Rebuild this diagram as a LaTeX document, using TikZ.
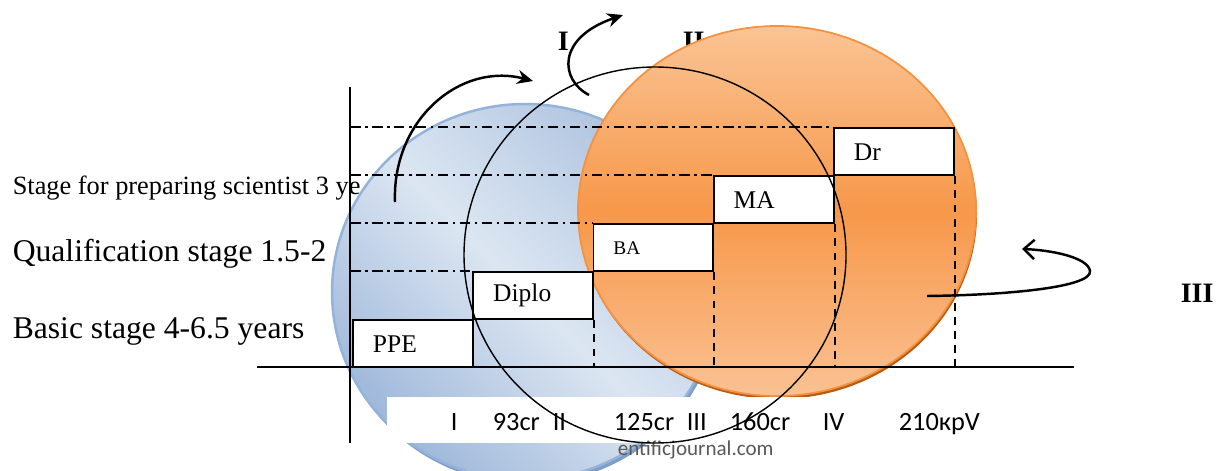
\documentclass[tikz,border=0pt]{standalone}
\usepackage{fontspec}
\setmainfont{Liberation Serif}
\newfontfamily\calib{Carlito}
\usetikzlibrary{arrows.meta}
\definecolor{bluedark}{HTML}{AEC3DF}
\definecolor{bluebot}{HTML}{9FB8DA}
\definecolor{bluelite}{HTML}{DCE6F2}
\definecolor{blueedge}{HTML}{93B3DA}
\definecolor{blueshad}{HTML}{7F9DC6}
\definecolor{orgtop}{HTML}{FAC495}
\definecolor{orgmid}{HTML}{F7984A}
\definecolor{orgbot}{HTML}{FAC193}
\definecolor{orgedge}{HTML}{F5913F}
\definecolor{orgshad}{HTML}{B85C12}

\begin{document}
\begin{tikzpicture}[x=0.02cm,y=-0.02cm,line width=0.9pt,
 stagebox/.style={draw,fill=white,line width=1.1pt,anchor=north west,minimum height=0.95cm,text width=1.6cm,inner xsep=0.4cm,align=left,font=\fontsize{14.5}{16}\selectfont},
 dashdot/.style={line width=0.9pt,dash pattern=on 6pt off 2.5pt on 1.5pt off 2.5pt},
 drop/.style={line width=1.1pt,dash pattern=on 4.5pt off 3.5pt},
 lbl/.style={anchor=base west,inner sep=0pt},
 roman/.style={lbl,font=\fontsize{16}{18}\selectfont\bfseries},
 crd/.style={lbl,font=\calib\fontsize{15}{17}\selectfont},
 curvearrow/.style={line width=1.4pt,-{Stealth[length=9pt,width=8pt]}}]
\clip (0,0) rectangle (1222,470);
\coordinate (cb) at (525,292);
\coordinate (co) at (777,211);
\coordinate (ck) at (655,255);
\fill[blueshad] ([shift={(2,4)}]cb) ellipse [x radius=193,y radius=188];
\shade[top color=bluedark,bottom color=bluebot,middle color=bluelite,shading angle=-45] (cb) ellipse [x radius=193,y radius=188];
\draw[blueedge,line width=1.4pt] (cb) ellipse [x radius=193,y radius=188];
\node[roman] (r2) at (682,50) {II};
\fill[orgshad] ([shift={(1,3)}]co) ellipse [x radius=199,y radius=185];
\shade[top color=orgtop,bottom color=orgbot,middle color=orgmid] (co) ellipse [x radius=199,y radius=185];
\draw[orgedge,line width=1pt] (co) ellipse [x radius=199,y radius=185];
\node[lbl,font=\fontsize{15}{17}\selectfont] (sci) at (12,194) {Stage for preparing scientist 3 ye};
\node[lbl,font=\fontsize{18}{20}\selectfont] (qual) at (12,261) {Qualification stage 1.5-2};
\node[lbl,font=\fontsize{18}{20}\selectfont] (basic) at (12,338) {Basic stage 4-6.5 years};
\node[roman] (r1) at (557,50) {I};
\node[roman] (r3) at (1180,302) {III};
\coordinate (yax) at (350,87);
\coordinate (yaxb) at (350,443);
\coordinate (xax) at (257,367);
\coordinate (xaxr) at (1074,367);
\draw (yax) -- (yaxb);
\foreach \t [count=\i] in {PPE,Diplo,{\fontsize{11}{13}\selectfont BA},MA,Dr}
  \node[stagebox] (b\i) at ({352+120.25*(\i-1)},{319-48*(\i-1)}) {\t};
\foreach \i in {2,...,5}{\draw[dashdot] (b\i.north west -| yax) -- (b\i.north west);};
\foreach \i in {2,...,5}{\draw[drop] (b\i.south east) -- (b\i.south east |- xax);};
\draw (xax) -- (xaxr);
\fill[white] (387,397) rectangle (990,443);
\foreach \t/\x in {I/450,93cr/492,II/552,125cr/613,III/686,160cr/729,IV/822,210крV/898}
  \node[crd] (c\x) at (\x,430) {\t};
\node[lbl,font=\calib\fontsize{12}{14}\selectfont,text=black!65] (wm) at (617,455) {entificjournal.com};
\draw[line width=0.8pt] (ck) ellipse [x radius=191,y radius=188];
\coordinate (a1s) at (395,202);
\coordinate (a1e) at (533,81);
\coordinate (a2s) at (589,95);
\coordinate (a2e) at (623,15);
\coordinate (a3s) at (927,296);
\coordinate (a3e) at (1022,249);
\draw[curvearrow] (a1s) .. controls (392,120) and (460,62) .. (a1e);
\draw[curvearrow] (a2s) .. controls (560,80) and (556,38) .. (a2e);
\draw[line width=1.4pt,-{Straight Barb[length=6pt,width=11pt]}] (a3s) .. controls (1010,295) and (1092,287) .. (1090,271) .. controls (1088,257) and (1050,250) .. (a3e);
\end{tikzpicture}
\end{document}
